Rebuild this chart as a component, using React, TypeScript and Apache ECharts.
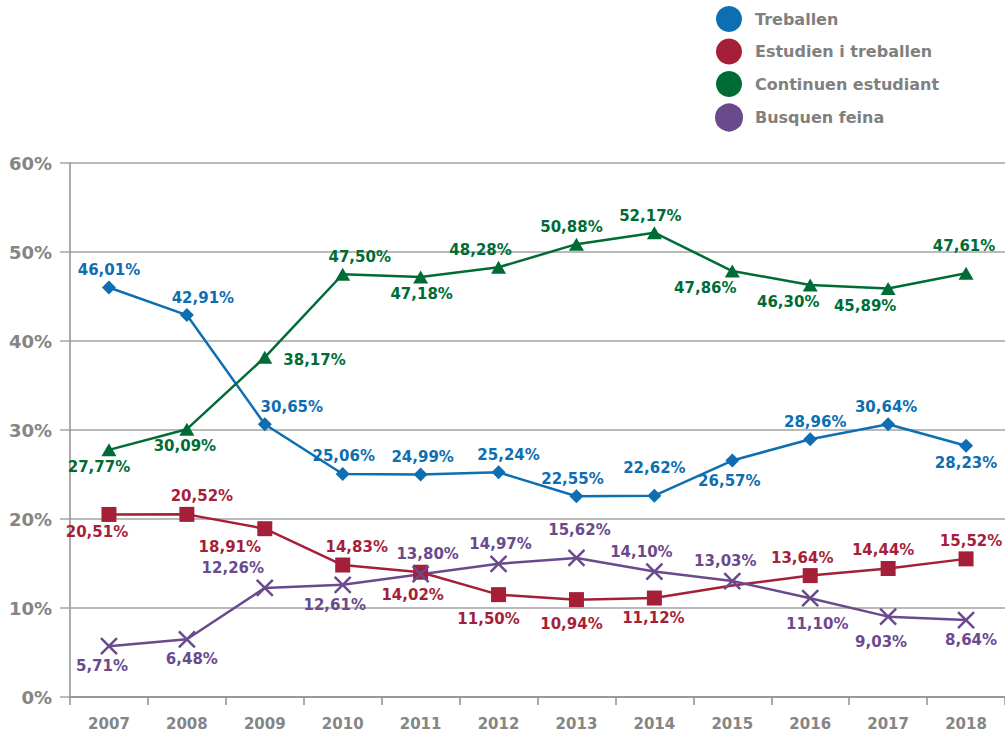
import React, { useEffect, useRef } from "react";
import * as echarts from "echarts";

const years = ["2007", "2008", "2009", "2010", "2011", "2012", "2013", "2014", "2015", "2016", "2017", "2018"];
const treballen = [46.01, 42.91, 30.65, 25.06, 24.99, 25.24, 22.55, 22.62, 26.57, 28.96, 30.64, 28.23];
const estudienTreballen = [20.51, 20.52, 18.91, 14.83, 14.02, 11.5, 10.94, 11.12, 12.53, 13.64, 14.44, 15.52];
const continuen = [27.77, 30.09, 38.17, 47.5, 47.18, 48.28, 50.88, 52.17, 47.86, 46.3, 45.89, 47.61];
const busquen = [5.71, 6.48, 12.26, 12.61, 13.8, 14.97, 15.62, 14.1, 13.03, 11.1, 9.03, 8.64];
const yTicks = [0, 10, 20, 30, 40, 50, 60];

// label placements (style only): [position, dx, dy]
type P = [string, number, number];
const blueLab: P[] = [["top", 0, 0], ["top", 16, 0], ["top", 27, 0], ["top", 1, 0], ["top", 2, 0], ["top", 10, 0], ["top", -4, 0], ["top", 0, -10], ["bottom", -3, 3], ["top", 5, 0], ["top", -2, 0], ["bottom", 0, 0]];
const greenLab: P[] = [["bottom", -10, 0], ["bottom", -2, 0], ["right", 8, 3], ["top", 17, 0], ["bottom", 1, 0], ["top", -18, 0], ["top", -5, 0], ["top", -4, 0], ["bottom", -27, 0], ["bottom", -22, 0], ["bottom", -23, 0], ["top", -2, -10]];
const redLab: P[] = [["bottom", -12, 0], ["top", 15, 0], ["bottom", -35, 0], ["top", 14, 0], ["bottom", -8, 5], ["bottom", -10, 6], ["bottom", -5, 6], ["bottom", -1, 2], ["bottom", 9, 14], ["top", -8, 0], ["top", -5, 0], ["top", 5, 0]];
const purpleLab: P[] = [["bottom", -7, 0], ["bottom", 5, 0], ["top", -32, 0], ["bottom", -8, 0], ["top", 7, 0], ["top", 2, 0], ["top", 3, -8], ["top", -13, 0], ["top", -7, 0], ["bottom", 7, 6], ["bottom", -7, 6], ["bottom", 5, 0]];
const redNoMarker = [8];

const BLUE = "#0d6eb2";
const RED = "#a51f38";
const GREEN = "#006c35";
const PURPLE = "#6a4a8d";
const GRAY = "#858585";
const FONT = "DejaVu Sans";

function build(values: number[], labs: P[], hide: number[] = []) {
  return values.map((v, i) => {
    const [pos, dx, dy] = labs[i];
    const item: any = {
      value: v,
      label: { position: pos, offset: [dx, dy] },
    };
    if (hide.includes(i)) item.symbol = "none";
    return item;
  });
}

const fmt = (p: any) => p.value.toFixed(2).replace(".", ",") + "%";

export default function App() {
  const ref = useRef<HTMLDivElement>(null);
  useEffect(() => {
    const chart = echarts.init(ref.current!, null, { renderer: "svg" });
    const labelBase = (color: string) => ({
      show: true,
      color,
      fontFamily: FONT,
      fontWeight: "bold",
      fontSize: 15,
      distance: 3,
      formatter: fmt,
    });
    chart.setOption({
      animation: false,
      textStyle: { fontFamily: FONT },
      legend: {
        orient: "vertical",
        left: 710,
        top: 1,
        itemWidth: 26,
        itemHeight: 26,
        itemGap: 6.5,
        icon: "circle",
        textStyle: { color: "#808080", fontSize: 16, fontWeight: "bold", fontFamily: FONT, padding: [0, 0, 0, 8] },
        data: ["Treballen", "Estudien i treballen", "Continuen estudiant", "Busquen feina"],
      },
      grid: { left: 70, right: 0, top: 163, bottom: 42, containLabel: false },
      xAxis: {
        type: "category",
        data: years,
        boundaryGap: true,
        axisLine: { lineStyle: { color: "#8f8f8f", width: 1.5 } },
        axisTick: { show: true, length: 8, lineStyle: { color: "#8f8f8f", width: 1.5 } },
        axisLabel: { color: GRAY, fontSize: 15, fontWeight: "bold", fontFamily: FONT, margin: 19 },
      },
      yAxis: {
        type: "value",
        min: yTicks[0],
        max: yTicks[yTicks.length - 1],
        interval: 10,
        axisLine: { show: true, lineStyle: { color: "#8f8f8f", width: 1.5 } },
        axisTick: { show: true, length: 10, lineStyle: { color: "#a3a3a3", width: 1.5 } },
        splitLine: { lineStyle: { color: "#a3a3a3", width: 1.5 } },
        axisLabel: { color: GRAY, fontSize: 18, fontWeight: "bold", fontFamily: FONT, margin: 18, formatter: "{value}%" },
      },
      series: [
        {
          name: "Treballen",
          type: "line",
          data: build(treballen, blueLab),
          color: BLUE,
          symbol: "diamond",
          symbolSize: 14,
          lineStyle: { width: 2.5, color: BLUE },
          itemStyle: { color: BLUE },
          label: labelBase(BLUE),
        },
        {
          name: "Estudien i treballen",
          type: "line",
          data: build(estudienTreballen, redLab, redNoMarker),
          color: RED,
          symbol: "rect",
          symbolSize: 15,
          lineStyle: { width: 2.5, color: RED },
          itemStyle: { color: RED },
          label: labelBase(RED),
        },
        {
          name: "Continuen estudiant",
          type: "line",
          data: build(continuen, greenLab),
          color: GREEN,
          symbol: "triangle",
          symbolSize: [15, 13],
          lineStyle: { width: 2.5, color: GREEN },
          itemStyle: { color: GREEN },
          label: labelBase(GREEN),
        },
        {
          name: "Busquen feina",
          type: "line",
          data: build(busquen, purpleLab),
          color: PURPLE,
          symbol: "path://M0,0L10,10M10,0L0,10",
          symbolSize: 16,
          lineStyle: { width: 2.5, color: PURPLE },
          itemStyle: { color: PURPLE, borderColor: PURPLE, borderWidth: 2.5 },
          label: labelBase(PURPLE),
        },
      ],
    });
    return () => chart.dispose();
  }, []);
  return <div ref={ref} style={{ position: "absolute", left: 0, top: 0, width: 1005, height: 739 }} />;
}
